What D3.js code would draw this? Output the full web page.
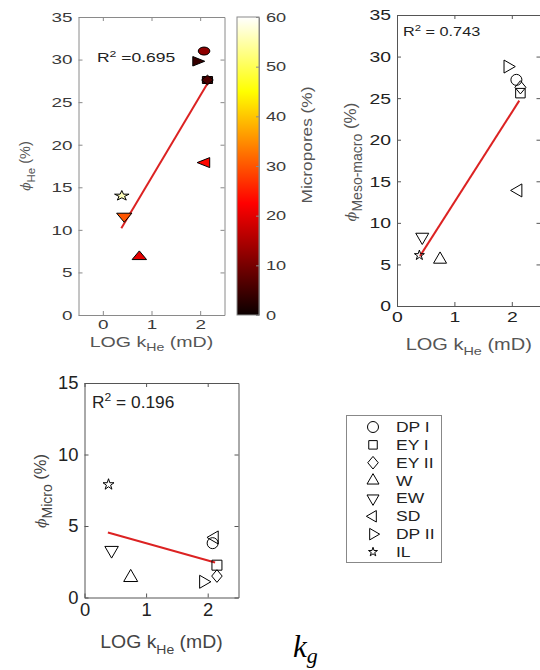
<!DOCTYPE html>
<html><head><meta charset="utf-8">
<script src="https://cdn.jsdelivr.net/npm/d3@7"></script>
<style>body{margin:0;background:#fff}svg{display:block}</style>
</head><body>
<script>
// ---------- data ----------
const samples = ["DP I", "EY I", "EY II", "W", "EW", "SD", "DP II", "IL"];
const markerTypes = ["circle", "square", "diamond", "triUp", "triDown", "triLeft", "triRight", "star"];
const logK = [2.08, 2.15, 2.15, 0.75, 0.44, 2.11, 1.93, 0.39];
const phiHe = [31.0, 27.6, 27.6, 6.85, 11.6, 17.9, 29.8, 14.0];
const phiMesoMacro = [27.2, 25.6, 26.3, 5.6, 8.3, 13.9, 28.8, 6.1];
const phiMicro = [3.8, 2.26, 1.5, 1.4, 3.3, 4.2, 1.1, 7.9];
const microporesPct = [12, 6, 6, 20, 30, 23, 4, 56];
const fitHeX = [0.38, 2.15], fitHeY = [10.2, 27.2];
const fitMesoX = [0.40, 2.13], fitMesoY = [6.0, 24.7];
const fitMicroX = [0.38, 2.12], fitMicroY = [4.55, 2.45];
const r2Labels = ["0.695", "0.743", "0.196"];
const xTicksA = [0, 1, 2];
const yTicksHe = [0, 5, 10, 15, 20, 25, 30, 35];
const yTicksMicro = [0, 5, 10, 15];
const cbTicks = [0, 10, 20, 30, 40, 50, 60];

// ---------- setup ----------
const W = 540, H = 670;
const FONT = "'Liberation Sans', Arial, sans-serif";
const svg = d3.select("body").append("svg").attr("width", W).attr("height", H)
  .style("background", "#fff");

const hot = d3.scaleLinear().domain([0, 22.5, 45, 60])
  .range(["#0b0000", "#ff0000", "#ffff00", "#ffffff"]).clamp(true);

const diamondType = {
  draw(ctx, size) {
    const w = Math.sqrt(size / 2.4), h = w * 1.2;
    ctx.moveTo(0, -h); ctx.lineTo(w, 0); ctx.lineTo(0, h); ctx.lineTo(-w, 0); ctx.closePath();
  }
};
function symInfo(type, w) {
  switch (type) {
    case "circle": return {t: d3.symbolCircle, s: Math.PI * w * w / 4, r: 0};
    case "square": return {t: d3.symbolSquare, s: w * w, r: 0};
    case "diamond": return {t: diamondType, s: 2.4 * (w / 2) * (w / 2), r: 0};
    case "triUp": return {t: d3.symbolTriangle, s: 0.433 * w * w, r: 0};
    case "triDown": return {t: d3.symbolTriangle, s: 0.433 * w * w, r: 180};
    case "triLeft": return {t: d3.symbolTriangle, s: 0.433 * w * w, r: -90};
    case "triRight": return {t: d3.symbolTriangle, s: 0.433 * w * w, r: 90};
    case "star": { const r = w / 1.902; return {t: d3.symbolStar, s: r * r / 0.8908, r: 0}; }
  }
}
const sizesDefault = {circle: 11, square: 9.5, diamond: 11, triUp: 13, triDown: 13, triLeft: 13, triRight: 13, star: 10};

function drawMarker(g, type, cx, cy, wmap, sx, fill, stroke) {
  const info = symInfo(type, wmap[type]);
  g.append("path")
    .attr("d", d3.symbol().type(info.t).size(info.s)())
    .attr("transform", `translate(${cx},${cy}) scale(${sx},1) rotate(${info.r})`)
    .attr("fill", fill).attr("stroke", stroke).attr("stroke-width", 1)
    .attr("vector-effect", "non-scaling-stroke");
}

function stretchedText(g, x, y, sx, anchor, size, color) {
  return g.append("text").attr("transform", `translate(${x},${y}) scale(${sx},1)`)
    .attr("text-anchor", anchor).attr("font-family", FONT).attr("font-size", size).attr("fill", color);
}

function panel(o) {
  const g = svg.append("g");
  const x = d3.scaleLinear().domain(o.xDomain).range([o.left, o.right]);
  const y = d3.scaleLinear().domain(o.yDomain).range([o.bottom, o.top]);
  const styleAxis = (a, hideText) => {
    a.selectAll("path.domain").attr("stroke", o.frame).attr("stroke-width", 1);
    a.selectAll(".tick line").attr("stroke", o.frame);
    a.selectAll("text").attr("font-family", FONT).attr("font-size", o.fs).attr("fill", o.tc);
    if (!hideText) a.selectAll("text").each(function () {
      const t = d3.select(this);
      if (t.attr("x") != null) t.attr("x", +t.attr("x") / o.sx);
      t.attr("transform", `scale(${o.sx},1)`);
    });
  };
  const fmt = d3.format("d");
  const ab = g.append("g").attr("transform", `translate(0,${o.bottom})`)
    .call(d3.axisBottom(x).tickValues(o.xTicks).tickSize(-4).tickSizeOuter(0).tickPadding(o.padX).tickFormat(fmt));
  styleAxis(ab);
  const at = g.append("g").attr("transform", `translate(0,${o.top})`)
    .call(d3.axisTop(x).tickValues(o.xTicks).tickSize(-4).tickSizeOuter(0).tickFormat(""));
  styleAxis(at, true);
  const al = g.append("g").attr("transform", `translate(${o.left},0)`)
    .call(d3.axisLeft(y).tickValues(o.yTicks).tickSize(-4).tickSizeOuter(0).tickPadding(o.padY).tickFormat(fmt));
  styleAxis(al);
  const ar = g.append("g").attr("transform", `translate(${o.right},0)`)
    .call(d3.axisRight(y).tickValues(o.yTicks).tickSize(-4).tickSizeOuter(0).tickFormat(""));
  styleAxis(ar, true);

  // fit line
  const line = d3.line().x(d => x(d[0])).y(d => y(d[1]));
  g.append("path").datum(o.fitX.map((v, i) => [v, o.fitY[i]]))
    .attr("d", line).attr("stroke", "#dc2222").attr("stroke-width", 2).attr("fill", "none");

  // markers
  o.order.forEach(i => {
    drawMarker(g, markerTypes[i], x(logK[i]), y(o.values[i]), o.msize, o.msx,
      o.fill ? o.fill(i) : "none", "#000");
  });

  // R2
  const r2 = stretchedText(g, o.r2x, o.r2y, o.sx, "start", o.r2fs, "#222");
  r2.append("tspan").text("R");
  r2.append("tspan").attr("font-size", o.r2fs * 0.7).attr("dy", -o.r2fs * 0.4).text("2");
  r2.append("tspan").attr("dy", o.r2fs * 0.4).text(o.r2text);

  // x label
  const xl = stretchedText(g, (o.left + o.right) / 2 + o.xlShift, o.xly, o.sx, "middle", o.xlfs, o.lc);
  xl.append("tspan").text("LOG k");
  xl.append("tspan").attr("font-size", o.xlfs * 0.72).attr("dy", o.xlfs * 0.3).text("He");
  xl.append("tspan").attr("dy", -o.xlfs * 0.3).text(" (mD)");

  // y label
  const yl = g.append("text").attr("transform", `translate(${o.ylx},${o.yly}) rotate(-90) scale(${o.ylsx},1)`)
    .attr("text-anchor", "middle").attr("font-family", FONT).attr("font-size", o.ylfs).attr("fill", o.lc);
  yl.append("tspan").attr("font-style", "italic").attr("font-family", "'DejaVu Serif', serif")
    .attr("font-size", o.ylfs * 0.85).text("\u03D5");
  yl.append("tspan").attr("font-size", o.ylsub).attr("dy", o.ylfs * 0.35).text(o.ysub);
  yl.append("tspan").attr("dy", -o.ylfs * 0.35).text(" (%)");
  return {x, y};
}

const allIdx = [5, 3, 4, 7, 6, 0, 1, 2];

// Panel 1: phi He coloured by micropores
panel({
  left: 78.5, right: 224.5, top: 17, bottom: 315,
  xDomain: [-0.5, 2.5], yDomain: [0, 35], xTicks: xTicksA, yTicks: yTicksHe,
  values: phiHe, fitX: fitHeX, fitY: fitHeY, order: allIdx,
  frame: "#8a8a8a", tc: "#3a3a3a", lc: "#555", fs: 13.5, sx: 1.4, padX: 4, padY: 6,
  msize: {circle: 8, square: 7, diamond: 8, triUp: 10, triDown: 10.5, triLeft: 10, triRight: 9.5, star: 10},
  msx: 1.45, fill: i => hot(microporesPct[i]),
  r2x: 97, r2y: 62, r2fs: 12.5, r2text: " =" + r2Labels[0],
  xly: 347, xlfs: 14, xlShift: 0,
  ylx: 30, yly: 166, ylfs: 14.5, ylsub: 11.5, ysub: "He", ylsx: 1.0
});

// Panel 2: phi meso-macro
panel({
  left: 397, right: 540.5, top: 15, bottom: 306,
  xDomain: [0, 2.5], yDomain: [0, 35], xTicks: xTicksA, yTicks: yTicksHe,
  values: phiMesoMacro, fitX: fitMesoX, fitY: fitMesoY, order: allIdx,
  frame: "#555", tc: "#222", lc: "#555", fs: 15.5, sx: 1.25, padX: 5, padY: 6,
  msize: sizesDefault, msx: 1, fill: null,
  r2x: 403, r2y: 36, r2fs: 13, r2text: " = " + r2Labels[1],
  xly: 350, xlfs: 16, xlShift: 0,
  ylx: 356, yly: 162, ylfs: 17, ylsub: 14, ysub: "Meso-macro", ylsx: 1.0
});

// Panel 3: phi micro
panel({
  left: 84.5, right: 238.5, top: 383, bottom: 597.5,
  xDomain: [0, 2.5], yDomain: [0, 15], xTicks: xTicksA, yTicks: yTicksMicro,
  values: phiMicro, fitX: fitMicroX, fitY: fitMicroY, order: allIdx,
  frame: "#555", tc: "#222", lc: "#444", fs: 17.5, sx: 1.05, padX: 6, padY: 6,
  msize: {circle: 11, square: 10, diamond: 10.5, triUp: 14, triDown: 13.5, triLeft: 13, triRight: 13, star: 11},
  msx: 1, fill: null,
  r2x: 92, r2y: 408, r2fs: 16.5, r2text: " = " + r2Labels[2],
  xly: 648, xlfs: 18.5, xlShift: 0,
  ylx: 46, yly: 491, ylfs: 16.5, ylsub: 14, ysub: "Micro", ylsx: 1.0
});

// ---------- colorbar ----------
const cb = svg.append("g");
const cbX0 = 237, cbX1 = 259, cbTop = 17, cbBottom = 315;
const cbScale = d3.scaleLinear().domain([0, 60]).range([cbBottom, cbTop]);
const grad = svg.append("defs").append("linearGradient").attr("id", "hotgrad")
  .attr("x1", 0).attr("y1", 1).attr("x2", 0).attr("y2", 0);
d3.range(0, 61, 2.5).forEach(v => grad.append("stop").attr("offset", v / 60).attr("stop-color", hot(v)));
cb.append("rect").attr("x", cbX0).attr("y", cbTop).attr("width", cbX1 - cbX0).attr("height", cbBottom - cbTop)
  .attr("fill", "url(#hotgrad)").attr("stroke", "#8a8a8a").attr("stroke-width", 1);
const cbAxis = cb.append("g").attr("transform", `translate(${cbX1},0)`)
  .call(d3.axisRight(cbScale).tickValues(cbTicks).tickSize(-3).tickSizeOuter(0).tickPadding(7).tickFormat(d3.format("d")));
cbAxis.select("path.domain").attr("stroke", "#8a8a8a");
cbAxis.selectAll(".tick line").attr("stroke", "#8a8a8a");
cbAxis.selectAll("text").attr("font-family", FONT).attr("font-size", 13.5).attr("fill", "#3a3a3a")
  .each(function () { const t = d3.select(this); t.attr("x", +t.attr("x") / 1.35).attr("transform", "scale(1.35,1)"); });
cb.append("text").attr("transform", `translate(312,145) rotate(-90) scale(1.15,1)`)
  .attr("text-anchor", "middle").attr("font-family", FONT).attr("font-size", 15).attr("fill", "#555")
  .text("Micropores (%)");

// ---------- legend ----------
const lg = svg.append("g");
lg.append("rect").attr("x", 346.5).attr("y", 415.5).attr("width", 95).attr("height", 147)
  .attr("fill", "#fff").attr("stroke", "#888").attr("stroke-width", 1);
const legY = d3.scalePoint().domain(samples).range([427, 552]);
const legSizes = {circle: 11, square: 8.5, diamond: 10.5, triUp: 12, triDown: 12, triLeft: 11.5, triRight: 11.5, star: 9};
samples.forEach((s, i) => {
  drawMarker(lg, markerTypes[i], 373, legY(s), legSizes, 1, "none", "#000");
  stretchedText(lg, 396, legY(s) + 5, 1.25, "start", 14, "#222").text(s);
});

// ---------- k_g annotation ----------
const kg = svg.append("text").attr("x", 293).attr("y", 657)
  .attr("font-family", "'Liberation Serif', serif").attr("font-style", "italic")
  .attr("font-size", 31).attr("fill", "#000");
kg.append("tspan").text("k");
kg.append("tspan").attr("font-size", 22).attr("dy", 6).text("g");
</script>
</body></html>
